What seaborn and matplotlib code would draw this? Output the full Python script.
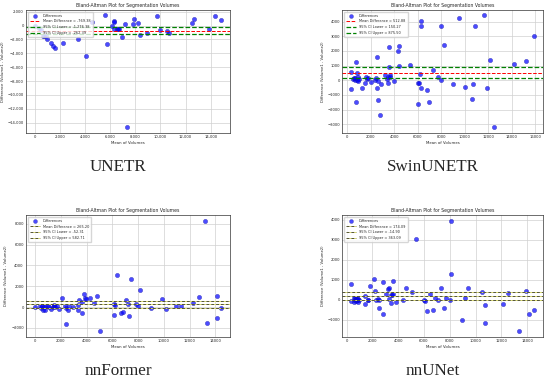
import numpy as np
import pandas as pd
import seaborn as sns
import matplotlib.pyplot as plt
from matplotlib.ticker import StrMethodFormatter

# UNETR
unetr_mean = [0, 300, 450, 620, 730, 830, 960, 1260, 1450, 1600, 2250, 3430, 4070, 4500, 5570,
              5730, 6100, 6320, 6320, 6320, 6560, 6640, 6720, 6930, 7200, 7360, 7820, 7920,
              8190, 8400, 8910, 9740, 9960, 10520, 10650, 12530, 12660, 13870, 14380, 14800]
unetr_diff = [0, -400, -600, -1500, -1500, -1520, -2000, -2540, -2980, -3270, -2440, -1900, -4340,
              490, 1460, -2640, 0, 730, 490, -440, -490, -490, -490, -1660, 290, -14690, 290,
              980, 440, -1370, -1120, 1370, -630, -730, -1120, 440, 1020, -540, 1420, 830]
unetr_stats = [-769.38, -1276.38, -262.39]

# SwinUNETR
swin_mean = [340, 360, 500, 560, 640, 700, 760, 780, 800, 870, 880, 940, 1000, 1260, 1510, 1640,
             1690, 1740, 2020, 2350, 2490, 2550, 2550, 2630, 2660, 2800, 2860, 3190, 3420, 3440,
             3440, 3560, 3560, 3610, 3610, 3980, 4310, 4370, 4370, 5380, 5990, 6020, 6100, 6220,
             6270, 6270, 6300, 6780, 7000, 7280, 7760, 7980, 7980, 8230, 9020, 9550, 10020, 10610,
             10720, 10890, 11620, 11870, 12180, 12460, 14170, 15260, 15880]
swin_diff = [530, -600, 60, 120, 0, 180, -1460, 1230, 40, 490, 200, -20, 100, -560, -190, 250,
             70, 170, -90, 0, 140, 1570, -530, -1370, -50, -2360, -280, 390, 110, 190, -190,
             2250, 930, 390, 200, -20, 1990, 2340, 970, 1020, -1640, -210, -210, 420, 4030, 3700,
             -530, -690, -1500, 670, 230, 0, 3700, 2430, -230, 4240, -490, -1270, -280, 3700,
             4420, -510, 1390, -3220, 1090, 1320, 2990]
swin_stats = [512.88, 150.27, 875.50]

# nnFormer
nnformer_mean = [0, 400, 480, 560, 620, 680, 730, 800, 1000, 1100, 1270, 1370, 1450, 1500, 1580,
                 1690, 1870, 2080, 2340, 2390, 2420, 2550, 2670, 2930, 3320, 3320, 3400, 3640,
                 3640, 3790, 3840, 3920, 4230, 4600, 4800, 5040, 6130, 6160, 6230, 6360, 6650,
                 6800, 7090, 7250, 7270, 7450, 7820, 8020, 8180, 9040, 9870, 10150, 10910, 11300,
                 12280, 12700, 13190, 13320, 14100, 14100, 14410]
nnformer_diff = [0, 60, -130, 130, -250, 30, -260, 130, 130, 0, -160, -30, 60, 190, 0, 60, -230,
                 840, 60, -1680, -90, -320, 130, 30, 160, -320, 710, 480, -550, 1290, 900, 770,
                 840, 390, 1030, -2350, 320, -740, 230, 3060, -580, -450, 710, 320, -900, 2710,
                 290, 130, 1610, -100, 770, -190, 130, 130, 390, 940, 8320, -1520, 1030, -1030, -60]
nnformer_stats = [265.20, -52.31, 582.71]

# nnUNet
nnunet_mean = [360, 360, 540, 580, 620, 660, 700, 740, 780, 820, 860, 900, 1000, 1450, 1450, 1660,
               1690, 1790, 2120, 2190, 2300, 2400, 2500, 2550, 2810, 2860, 3030, 3210, 3320, 3320,
               3420, 3440, 3520, 3600, 3620, 3850, 4390, 4570, 5050, 5360, 5990, 6070, 6250, 6430,
               6730, 6830, 7060, 7320, 7550, 7730, 8010, 8080, 8110, 8950, 9180, 9380, 10480,
               10740, 10760, 12090, 12520, 13360, 13920, 14130, 14510]
nnunet_diff = [770, -80, 80, -120, 100, -20, 60, -50, 80, 0, -110, 30, -20, 170, -200, 0, -30,
               690, 1020, 440, -30, 50, -20, -400, 870, -720, 270, 550, 590, 20, -150, 230, 250,
               270, 940, -100, 0, 570, 370, 3050, 0, -50, -590, 290, -500, 100, 0, 600, -440, 80,
               0, 3960, 1280, -1020, 100, 600, 370, -250, -1160, -220, 340, -1590, 440, -700, -540]
nnunet_stats = [174.09, -14.90, 363.09]

panels = [
    ("UNETR", unetr_mean, unetr_diff, unetr_stats, [0.047, 0.651, 0.371, 0.323], "top"),
    ("SwinUNETR", swin_mean, swin_diff, swin_stats, [0.622, 0.651, 0.365, 0.323], "top"),
    ("nnFormer", nnformer_mean, nnformer_diff, nnformer_stats, [0.047, 0.1155, 0.371, 0.320], "bottom"),
    ("nnUNet", nnunet_mean, nnunet_diff, nnunet_stats, [0.622, 0.1155, 0.365, 0.320], "bottom"),
]

sns.set_style("whitegrid", {"axes.edgecolor": "#333333", "grid.color": "#d0d0d0"})
plt.rcParams["font.family"] = ["DejaVu Sans"]

fig = plt.figure(figsize=(5.5, 3.81), dpi=100)

for name, mean_vals, diff_vals, stats, rect, row in panels:
    ax = fig.add_axes(rect)
    df = pd.DataFrame({"Mean": mean_vals, "Diff": diff_vals})
    sns.scatterplot(data=df, x="Mean", y="Diff", ax=ax, color="blue", alpha=0.7,
                    s=10, edgecolor="#1a1a9a", linewidth=0.3, label="Differences")

    mean_d, lo, hi = stats
    fmt = "{:,.2f}" if name == "UNETR" else "{:.2f}"
    if row == "top":
        ax.axhline(mean_d, color="red", linestyle="--", linewidth=0.7,
                   label="Mean Difference = " + fmt.format(mean_d))
        ax.axhline(lo, color="green", linestyle="--", linewidth=0.9,
                   label="95% CI Lower = " + fmt.format(lo))
        ax.axhline(hi, color="green", linestyle="--", linewidth=0.9,
                   label="95% CI Upper = " + fmt.format(hi))
    else:
        for val, lab in [(mean_d, "Mean Difference = "), (lo, "95% CI Lower = "), (hi, "95% CI Upper = ")]:
            ax.axhline(val, color="#555530", linestyle=(0, (3, 2)), gapcolor="#dede6a",
                       linewidth=0.7, label=lab + fmt.format(val))

    ax.set_title("Bland-Altman Plot for Segmentation Volumes", fontsize=3.3, pad=2)
    ax.set_xlabel("Mean of Volumes", fontsize=2.8, labelpad=1.5)
    ax.set_ylabel("Difference (Volume1 - Volume2)", fontsize=2.7, labelpad=2)
    ax.tick_params(labelsize=2.7, pad=1.5, length=0)
    if name == "UNETR":
        ax.xaxis.set_major_formatter(StrMethodFormatter("{x:,.0f}"))
        ax.yaxis.set_major_formatter(StrMethodFormatter("{x:,.0f}"))
    for sp in ax.spines.values():
        sp.set_linewidth(0.5)
    ax.grid(True, linewidth=0.5)
    ax.legend(loc="upper left", fontsize=2.5, markerscale=0.9, handlelength=3,
              borderpad=0.6, labelspacing=0.5, framealpha=0.8, edgecolor="#cccccc",
              fancybox=True)

    cx = rect[0] + rect[2] / 2 - 0.018
    cy = 1 - (167 / 381) if row == "top" else 1 - (371 / 381)
    fig.text(cx, cy, name, ha="center", va="center", fontsize=12.3,
             family=["Liberation Serif", "DejaVu Serif"])

fig.savefig("out.png", dpi=100)
